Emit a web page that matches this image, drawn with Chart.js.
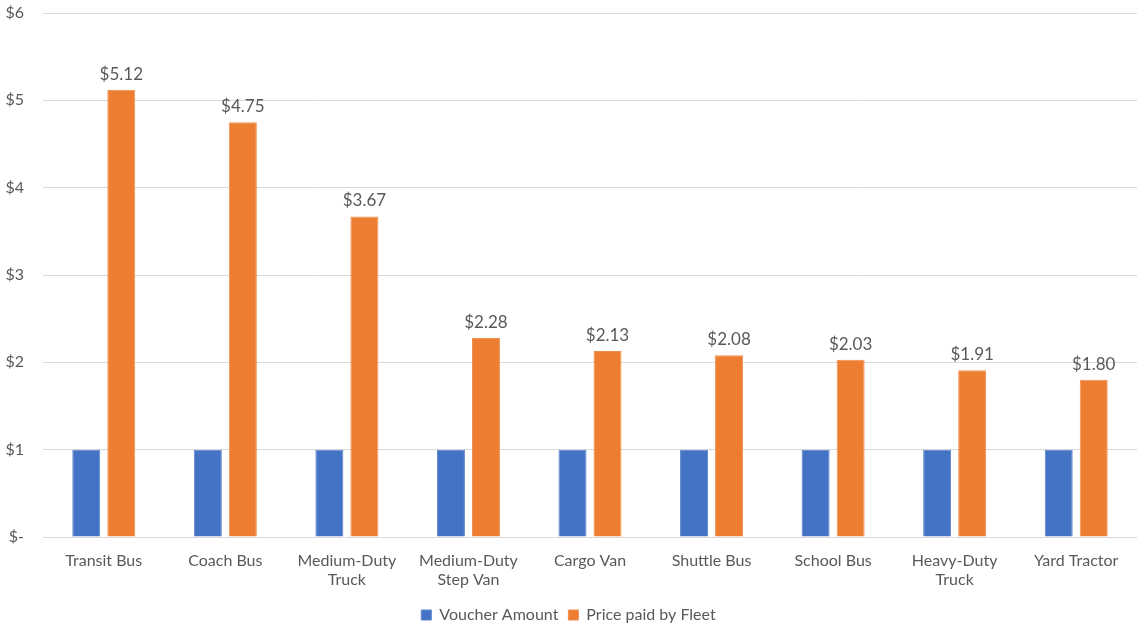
<!DOCTYPE html>
<html lang="en">
<head>
    <meta charset="UTF-8">
    <title>Voucher Amount vs Price paid by Fleet</title>
    <script src="https://cdn.jsdelivr.net/npm/chart.js"></script>
    <style>
        body {
            margin: 0;
            padding: 0;
            background-color: #fff;
        }

        .chart-container {
            width: 1137px;
            height: 623px;
        }
    </style>
</head>
<body>
    <div class="chart-container">
        <canvas id="voucherChart"></canvas>
    </div>

    <script>
        const categories = ['Transit Bus', 'Coach Bus', ['Medium-Duty', 'Truck'], ['Medium-Duty', 'Step Van'],
            'Cargo Van', 'Shuttle Bus', 'School Bus', ['Heavy-Duty', 'Truck'], 'Yard Tractor'];
        const voucherAmount = [1, 1, 1, 1, 1, 1, 1, 1, 1];
        const pricePaidByFleet = [5.12, 4.75, 3.67, 2.28, 2.13, 2.08, 2.03, 1.91, 1.80];
        const yTicks = [0, 1, 2, 3, 4, 5, 6];

        const textColor = '#595959';
        const fontFamily = 'Lato, "Open Sans", sans-serif';

        // labels above the orange bars
        const barLabels = {
            id: 'barLabels',
            afterDatasetsDraw(chart) {
                const ctx = chart.ctx;
                const meta = chart.getDatasetMeta(1);
                ctx.save();
                ctx.fillStyle = textColor;
                ctx.font = '17px ' + fontFamily;
                ctx.textAlign = 'center';
                ctx.textBaseline = 'bottom';
                meta.data.forEach((bar, i) => {
                    ctx.fillText('$' + pricePaidByFleet[i].toFixed(2), bar.x, bar.y - 7);
                });
                ctx.restore();
            }
        };

        const ctx = document.getElementById('voucherChart').getContext('2d');
        new Chart(ctx, {
            type: 'bar',
            data: {
                labels: categories,
                datasets: [{
                    label: 'Voucher Amount',
                    data: voucherAmount,
                    backgroundColor: '#4472C4',
                    borderColor: '#5b84cc',
                    borderWidth: 1,
                    categoryPercentage: 0.576,
                    barPercentage: 0.8
                }, {
                    label: 'Price paid by Fleet',
                    data: pricePaidByFleet,
                    backgroundColor: '#ED7D31',
                    borderColor: '#f08f4d',
                    borderWidth: 1,
                    categoryPercentage: 0.576,
                    barPercentage: 0.8
                }]
            },
            options: {
                responsive: true,
                maintainAspectRatio: false,
                animation: false,
                layout: {
                    padding: { top: 13, right: 0, left: 0, bottom: -10 }
                },
                plugins: {
                    legend: {
                        position: 'bottom',
                        labels: {
                            color: textColor,
                            font: { family: fontFamily, size: 16 },
                            boxWidth: 10,
                            boxHeight: 10,
                            padding: 10
                        }
                    },
                    tooltip: { enabled: false }
                },
                scales: {
                    x: {
                        grid: { display: false },
                        border: { display: false },
                        ticks: {
                            color: textColor,
                            font: { family: fontFamily, size: 16 },
                            maxRotation: 0,
                            padding: 6
                        },
                        afterFit(axis) {
                            axis.height = 60;
                        }
                    },
                    y: {
                        min: 0,
                        max: 6,
                        afterBuildTicks(axis) {
                            axis.ticks = yTicks.map(v => ({ value: v }));
                        },
                        grid: { color: '#d9d9d9', drawTicks: false },
                        border: { display: false },
                        ticks: {
                            color: textColor,
                            font: { family: fontFamily, size: 16 },
                            padding: 19,
                            callback: v => v === 0 ? '$-' : '$' + v
                        },
                        afterFit(axis) {
                            axis.width = 43;
                            axis.paddingTop = 0;
                            axis.paddingBottom = 0;
                        }
                    }
                }
            },
            plugins: [barLabels]
        });
    </script>
</body>
</html>
